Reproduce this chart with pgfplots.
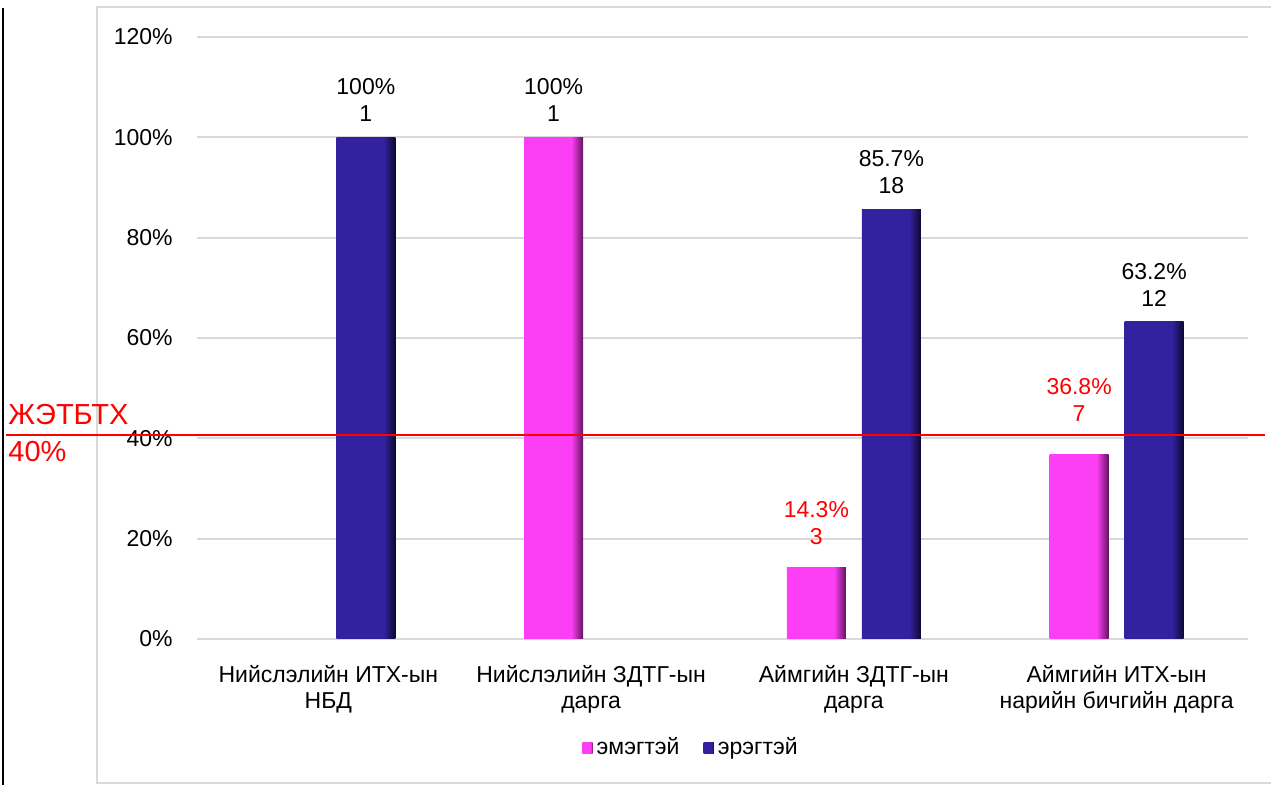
\documentclass[border=0pt]{standalone}
\usepackage{pgfplots}
\pgfplotsset{compat=1.18}
\usepackage{fontspec}
\setmainfont{Liberation Sans}
\definecolor{pinkc}{RGB}{252,62,245}
\definecolor{pinkd}{RGB}{100,18,95}
\definecolor{bluec}{RGB}{50,34,160}
\definecolor{blued}{RGB}{14,8,48}
\definecolor{gridc}{RGB}{217,217,217}
\definecolor{framec}{RGB}{217,217,217}
\pgfdeclarehorizontalshading{pinkbar}{100bp}{color(0bp)=(pinkc); color(25bp)=(pinkc); color(65bp)=(pinkc); color(75bp)=(pinkd); color(100bp)=(pinkd)}
\pgfdeclarehorizontalshading{bluebar}{100bp}{color(0bp)=(bluec); color(25bp)=(bluec); color(65bp)=(bluec); color(75bp)=(blued); color(100bp)=(blued)}
\newcommand{\lblfont}{\fontsize{11.5}{13.5}\selectfont}
\pgfplotsset{
  pinkbar/.style={ybar, bar width=29.5pt, bar shift=-18.75pt, draw=none, shade, shading=pinkbar,
    every node near coord/.append style={xshift=-18.75pt}},
  bluebar/.style={ybar, bar width=29.5pt, bar shift=18.75pt, draw=none, shade, shading=bluebar,
    every node near coord/.append style={xshift=18.75pt}},
}
\begin{document}
\begin{tikzpicture}[x=1pt,y=1pt]
\path[use as bounding box] (0,0) rectangle (635.5,392.5);
\draw[framec, line width=1pt] (48.5,1) rectangle (660,389);
\draw[black, line width=1.2pt] (1.5,0) -- (1.5,388.5);
\begin{axis}[
  at={(98.5pt,73pt)}, anchor=south west,
  scale only axis, width=525.5pt, height=301pt,
  xmin=-0.5, xmax=3.5, ymin=0, ymax=120,
  clip=false,
  axis line style={draw=none},
  major tick length=0pt,
  xtick={0,1,2,3},
  xticklabels={{Нийслэлийн ИТХ-ын\\НБД},{Нийслэлийн ЗДТГ-ын\\дарга},{Аймгийн ЗДТГ-ын\\дарга},{Аймгийн ИТХ-ын\\нарийн бичгийн дарга}},
  xticklabel style={align=center, inner sep=0pt, yshift=-13pt, font=\fontsize{11.5}{12.8}\selectfont},
  ytick={0,20,...,120},
  yticklabel={\pgfmathprintnumber{\tick}\%},
  yticklabel style={inner sep=0pt, xshift=-12pt, font=\lblfont},
  /pgf/number format/assume math mode=true,
  ymajorgrids,
  grid style={gridc, line width=1pt},
  point meta=explicit symbolic,
  nodes near coords,
  every node near coord/.append style={align=center, inner sep=0pt, yshift=7.5pt, font=\lblfont, text=black},
  legend image code/.code={\path[#1] (0pt,-2.6pt) rectangle (5.2pt,2.6pt);},
  legend style={draw=none, fill=none, at={(0.471,-0.181)}, anchor=center, legend columns=2, font=\lblfont,
    /tikz/every even column/.append style={column sep=10pt}},
]
\addplot[pinkbar] coordinates {(1,100) [{100\%\\1}]};
\addlegendentry{эмэгтэй}
\addplot[bluebar] coordinates {(0,100) [{100\%\\1}]};
\addlegendentry{эрэгтэй}
\addplot[pinkbar, forget plot, every node near coord/.append style={yshift=3.5pt}] coordinates {(2,14.3) [{\textcolor{red}{14.3\%}\\\textcolor{red}{3}}]};
\addplot[pinkbar, forget plot, every node near coord/.append style={yshift=8.5pt}] coordinates {(3,36.8) [{\textcolor{red}{36.8\%}\\\textcolor{red}{7}}]};
\addplot[bluebar, forget plot] coordinates {(2,85.7) [{85.7\%\\18}]};
\addplot[bluebar, forget plot] coordinates {(3,63.2) [{63.2\%\\12}]};
\draw[red, line width=1pt] ([xshift=-95.5pt]axis cs:-0.5,40.6) -- ([xshift=8.5pt]axis cs:3.5,40.6);
\end{axis}
\node[anchor=base west, red, inner sep=0pt, font=\fontsize{14.5}{17}\selectfont] at (4,180) {ЖЭТБТХ};
\node[anchor=base west, red, inner sep=0pt, font=\fontsize{14.5}{17}\selectfont] at (4,161.5) {40\%};
\end{tikzpicture}
\end{document}
